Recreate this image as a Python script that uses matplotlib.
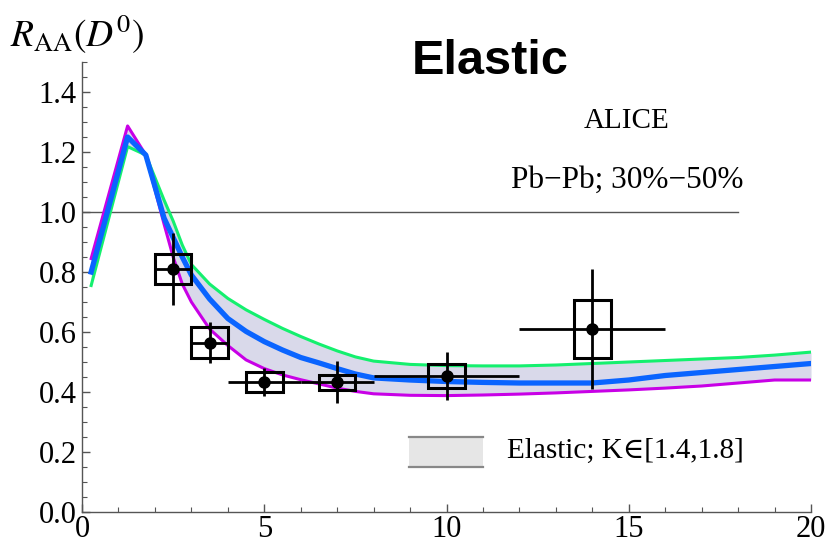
import matplotlib
matplotlib.use("Agg")
import matplotlib.pyplot as plt
from matplotlib.patches import Rectangle
from matplotlib.ticker import MultipleLocator, FormatStrFormatter

plt.rcParams["font.family"] = ["Liberation Serif", "DejaVu Serif"]
plt.rcParams["mathtext.fontset"] = "stix"

# model curves (pT in GeV, R_AA)
pt = [0.25, 1.25, 1.75, 2.25, 2.5, 2.75, 3.0, 3.5, 4.0, 4.5, 5.0, 5.5, 6.0,
      6.5, 7.0, 7.5, 8.0, 9.0, 10.0, 11.0, 12.0, 13.0, 14.0, 15.0, 16.0,
      17.0, 18.0, 19.0, 20.0]
raa_upper = [0.755, 1.218, 1.19, 1.04, 0.97, 0.89, 0.825, 0.76, 0.712, 0.674,
             0.642, 0.612, 0.585, 0.56, 0.537, 0.517, 0.503, 0.492, 0.488,
             0.487, 0.487, 0.49, 0.495, 0.5, 0.505, 0.51, 0.515, 0.523, 0.533]
raa_mid = [0.80, 1.25, 1.19, 0.98, 0.915, 0.85, 0.79, 0.71, 0.645, 0.602,
           0.568, 0.54, 0.515, 0.497, 0.478, 0.46, 0.447, 0.44, 0.435,
           0.432, 0.43, 0.43, 0.43, 0.44, 0.455, 0.465, 0.475, 0.485, 0.495]
raa_lower = [0.845, 1.287, 1.19, 0.96, 0.85, 0.76, 0.70, 0.61, 0.555, 0.507,
             0.478, 0.457, 0.441, 0.427, 0.413, 0.402, 0.394, 0.389, 0.388,
             0.39, 0.393, 0.397, 0.402, 0.407, 0.413, 0.42, 0.43, 0.44, 0.44]

# ALICE D0, Pb-Pb 30-50%
d_pt = [2.5, 3.5, 5.0, 7.0, 10.0, 14.0]
d_raa = [0.81, 0.565, 0.433, 0.433, 0.453, 0.61]
d_xerr = [0.5, 0.5, 1.0, 1.0, 2.0, 2.0]
d_stat = [0.12, 0.068, 0.047, 0.07, 0.08, 0.2]
d_sys_dx = [0.5, 0.5, 0.5, 0.5, 0.5, 0.5]
d_sys = [0.05, 0.052, 0.033, 0.025, 0.04, 0.097]

fig = plt.figure(figsize=(8.27, 5.47), dpi=100)
ax = fig.add_axes([0.0992, 0.064, 0.8815, 0.8226])

ax.fill_between(pt, raa_lower, raa_upper, color="#d9d9ea", lw=0, zorder=1)
ax.plot(pt, raa_upper, color="#14f06e", lw=2.2, zorder=3)
ax.plot(pt, raa_lower, color="#c800e6", lw=2.2, zorder=3)
ax.plot(pt, raa_mid, color="#0a64ff", lw=3.8, zorder=4)

ax.plot([0, 18], [1, 1], color="#555555", lw=1.0, zorder=2)

for x, y, dx, dy in zip(d_pt, d_raa, d_sys_dx, d_sys):
    ax.add_patch(Rectangle((x - dx, y - dy), 2 * dx, 2 * dy, fill=False,
                           edgecolor="black", lw=2.2, zorder=5))
ax.errorbar(d_pt, d_raa, xerr=d_xerr, yerr=d_stat, fmt="o", color="black",
            ms=8, elinewidth=2.0, capsize=0, zorder=6)

# legend swatch
ax.add_patch(Rectangle((0.449, 0.10), 0.101, 0.067, transform=ax.transAxes,
                       facecolor="#e6e6e6", edgecolor="none", zorder=5))
ax.plot([0.449, 0.55], [0.167, 0.167], transform=ax.transAxes,
        color="#888888", lw=1.6, zorder=6)
ax.plot([0.449, 0.55], [0.10, 0.10], transform=ax.transAxes,
        color="#888888", lw=1.6, zorder=6)
ax.text(0.583, 0.135, "Elastic; K\u2208[1.4,1.8]", transform=ax.transAxes,
        fontsize=21, va="center", ha="left")

ax.text(14.95, 1.305, "ALICE", fontsize=21, ha="center", va="center")
ax.text(14.95, 1.105, "Pb\u2212Pb; 30%\u221250%", fontsize=22.5,
        ha="center", va="center")

fig.text(0.593, 0.887, "Elastic", fontsize=35, fontweight="bold",
         family="Liberation Sans", ha="center", va="center")
fig.text(0.012, 0.937, r"$R_{\mathrm{AA}}(D^0)$", fontsize=27,
         ha="left", va="center")

ax.set_xlim(0, 20)
ax.set_ylim(0, 1.5)
ax.xaxis.set_major_locator(MultipleLocator(5))
ax.xaxis.set_minor_locator(MultipleLocator(1))
ax.yaxis.set_major_locator(MultipleLocator(0.2))
ax.yaxis.set_minor_locator(MultipleLocator(0.05))
ax.yaxis.set_major_formatter(FormatStrFormatter("%.1f"))
for side in ("top", "right"):
    ax.spines[side].set_visible(False)
for side in ("left", "bottom"):
    ax.spines[side].set_color("#555555")
    ax.spines[side].set_linewidth(1.0)
ax.tick_params(which="both", direction="in", color="#555555", labelsize=22)
ax.tick_params(axis="x", pad=2)
ax.tick_params(axis="y", pad=4)
ax.tick_params(which="major", length=6, width=1.0)
ax.tick_params(which="minor", length=3.5, width=0.8)

fig.savefig("out.png", dpi=100)
